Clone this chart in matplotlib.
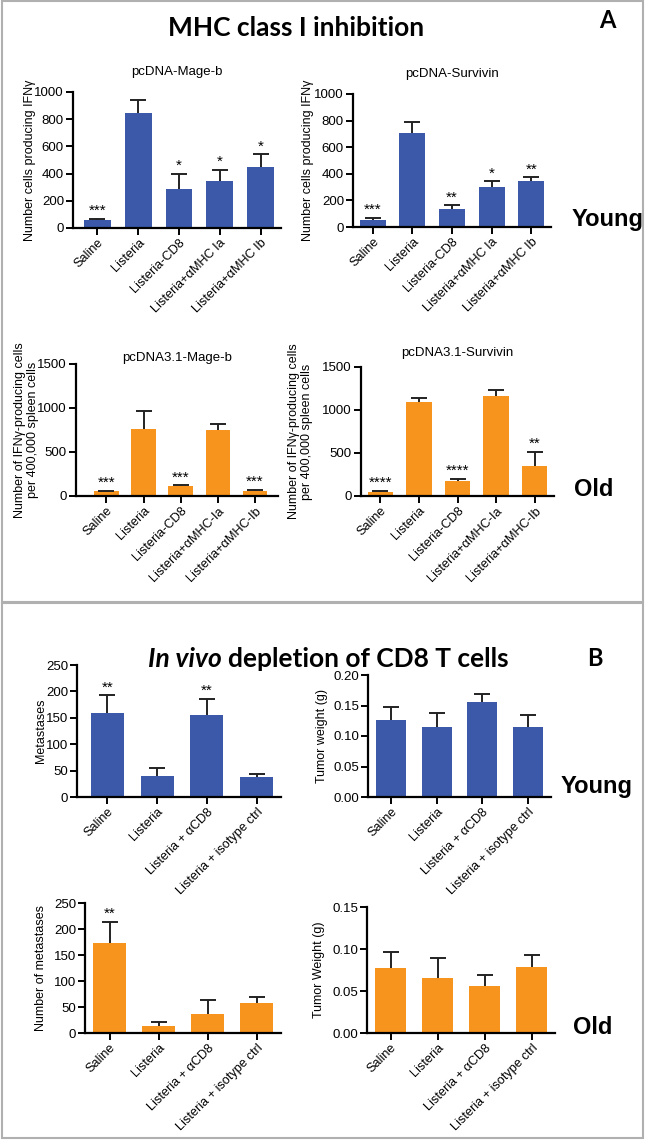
import matplotlib
matplotlib.use("Agg")
import matplotlib.pyplot as plt
from matplotlib.patches import Rectangle

plt.rcParams['font.family'] = ['Liberation Sans', 'DejaVu Sans']

W, H = 646, 1142
BLUE = '#3B59A8'
ORANGE = '#F7941D'

# ---- data ----
mhc_groups = ['Saline', 'Listeria', 'Listeria-CD8', 'Listeria+\u03b1MHC Ia', 'Listeria+\u03b1MHC Ib']
mhc_groups_old = ['Saline', 'Listeria', 'Listeria-CD8', 'Listeria+\u03b1MHC-Ia', 'Listeria+\u03b1MHC-Ib']
mage_young = [56, 846, 287, 346, 446]
mage_young_err = [13, 93, 113, 83, 96]
mage_young_sig = ['***', '', '*', '*', '*']
surv_young = [55, 705, 139, 300, 348]
surv_young_err = [13, 83, 25, 43, 27]
surv_young_sig = ['***', '', '**', '*', '**']
mage_old = [53, 767, 110, 748, 61]
mage_old_err = [8, 201, 12, 69, 11]
mage_old_sig = ['***', '', '***', '', '***']
surv_old = [51, 1092, 179, 1158, 354]
surv_old_err = [11, 43, 23, 74, 163]
surv_old_sig = ['****', '', '****', '', '**']

cd8_groups = ['Saline', 'Listeria', 'Listeria + \u03b1CD8', 'Listeria + isotype ctrl']
met_young = [159, 39, 155, 37]
met_young_err = [34, 16, 31, 7]
met_young_sig = ['**', '', '**', '']
tw_young = [0.126, 0.114, 0.155, 0.114]
tw_young_err = [0.022, 0.024, 0.014, 0.021]
met_old = [173, 14, 37, 58]
met_old_err = [41, 8, 26, 11]
met_old_sig = ['**', '', '', '']
tw_old = [0.077, 0.065, 0.056, 0.078]
tw_old_err = [0.020, 0.024, 0.013, 0.015]

fig = plt.figure(figsize=(W / 100, H / 100), dpi=100)


def px_axes(x0, y0, x1, y1):
    return fig.add_axes([x0 / W, 1 - y1 / H, (x1 - x0) / W, (y1 - y0) / H])


def bar_panel(box, groups, vals, errs, color, ylim, yticks, ytl, ylabel, lab_x,
              title=None, title_pad=8, sig=None, xlim=None, sig_off=0.5):
    ax = px_axes(*box)
    xs = range(len(groups))
    ax.bar(xs, vals, width=0.66, color=color, zorder=2)
    eb = ax.errorbar(xs, vals, yerr=[[0] * len(vals), errs], fmt='none', ecolor='#222222',
                     elinewidth=1.4, capsize=6, capthick=1.4, zorder=3)
    # only the upper cap is drawn in the original
    eb[1][0].set_visible(False)
    if sig:
        for x, v, e, s in zip(xs, vals, errs, sig):
            if s:
                ax.annotate(s, (x, v + e), xytext=(0, sig_off), textcoords='offset points',
                            ha='center', va='bottom', fontsize=11)
    ax.set_ylim(*ylim)
    ax.set_yticks(yticks)
    ax.set_yticklabels(ytl, fontsize=9.5)
    ax.set_xlim(*(xlim if xlim else (-0.5, len(groups) - 0.5)))
    ax.set_xticks(list(xs))
    ax.set_xticklabels(groups, rotation=45, ha='right', rotation_mode='anchor', fontsize=9.2)
    for s in ['top', 'right']:
        ax.spines[s].set_visible(False)
    for s in ['left', 'bottom']:
        ax.spines[s].set_linewidth(1.6)
    ax.tick_params(axis='both', width=1.4, length=5, pad=1.5)
    ax.set_ylabel(ylabel, fontsize=9, linespacing=1.1)
    cy = 1 - (box[1] + box[3]) / 2 / H
    ax.yaxis.set_label_coords(lab_x / W, cy, transform=fig.transFigure)
    if title:
        ax.set_title(title, fontsize=9.5, pad=title_pad)
    return ax


k = [0, 200, 400, 600, 800, 1000]
bar_panel((73, 92, 281, 228), mhc_groups, mage_young, mage_young_err, BLUE,
          (0, 1000), k, [str(v) for v in k], 'Number cells producing IFN\u03b3', 36,
          title='pcDNA-Mage-b', title_pad=12, sig=mage_young_sig, xlim=(-0.6, 4.5))
bar_panel((353, 94, 551, 227), mhc_groups, surv_young, surv_young_err, BLUE,
          (0, 1000), k, [str(v) for v in k], 'Number cells producing IFN\u03b3', 314,
          title='pcDNA-Survivin', title_pad=12, sig=surv_young_sig)

k2 = [0, 500, 1000, 1500]
old_lab = 'Number of IFN\u03b3-producing cells\nper 400,000 spleen cells'
bar_panel((76, 364, 278, 496), mhc_groups_old, mage_old, mage_old_err, ORANGE,
          (0, 1500), k2, [str(v) for v in k2], old_lab, 39,
          title='pcDNA3.1-Mage-b', title_pad=-2, sig=mage_old_sig, xlim=(-0.82, 4.62))
bar_panel((361, 367, 554, 496), mhc_groups_old, surv_old, surv_old_err, ORANGE,
          (0, 1500), k2, [str(v) for v in k2], old_lab, 313,
          title='pcDNA3.1-Survivin', title_pad=8, sig=surv_old_sig)

k3 = [0, 50, 100, 150, 200, 250]
bar_panel((77, 665, 281, 797), cd8_groups, met_young, met_young_err, BLUE,
          (0, 250), k3, [str(v) for v in k3], 'Metastases', 47,
          sig=met_young_sig, xlim=(-0.61, 3.49))
k4 = [0, 0.05, 0.10, 0.15, 0.20]
bar_panel((368, 675, 551, 797), cd8_groups, tw_young, tw_young_err, BLUE,
          (0, 0.2), k4, ['%.2f' % v for v in k4], 'Tumor weight (g)', 328)
bar_panel((85, 903, 281, 1033), cd8_groups, met_old, met_old_err, ORANGE,
          (0, 250), k3, [str(v) for v in k3], 'Number of metastases', 47,
          sig=met_old_sig)
k5 = [0, 0.05, 0.10, 0.15]
bar_panel((367, 907, 555, 1033), cd8_groups, tw_old, tw_old_err, ORANGE,
          (0, 0.15), k5, ['%.2f' % v for v in k5], 'Tumor Weight (g)', 325)

# side labels
for txt, x, y in [('Young', 572, 220), ('Old', 574, 489), ('Young', 561, 787), ('Old', 573, 1028)]:
    fig.text(x / W, 1 - y / H, txt, fontsize=17, fontweight='bold', ha='left', va='center')

# section headers
head = ['Lato', 'DejaVu Sans']
fig.text(296 / W, 1 - 28 / H, 'MHC class I inhibition', fontsize=19, fontweight='bold',
         ha='center', va='center', family=head)
fig.text(607 / W, 1 - 21 / H, 'A', fontsize=17, fontweight='bold', ha='center', va='center',
         family=head)
fig.text(222 / W, 1 - 659 / H, 'In vivo', fontsize=19, fontweight='bold', style='italic',
         ha='right', va='center', family=head)
fig.text(228 / W, 1 - 659 / H, 'depletion of CD8 T cells', fontsize=19, fontweight='bold',
         ha='left', va='center', family=head)
fig.text(595 / W, 1 - 659 / H, 'B', fontsize=17, fontweight='bold', ha='center', va='center',
         family=head)

# panel frames
for y0, y1 in [(1, 602), (603, 1138)]:
    fig.patches.append(Rectangle((2 / W, 1 - y1 / H), 641 / W, (y1 - y0) / H,
                                 transform=fig.transFigure, fill=False,
                                 edgecolor='#b0b0b0', linewidth=1.5))

fig.savefig('out.png', dpi=100)
